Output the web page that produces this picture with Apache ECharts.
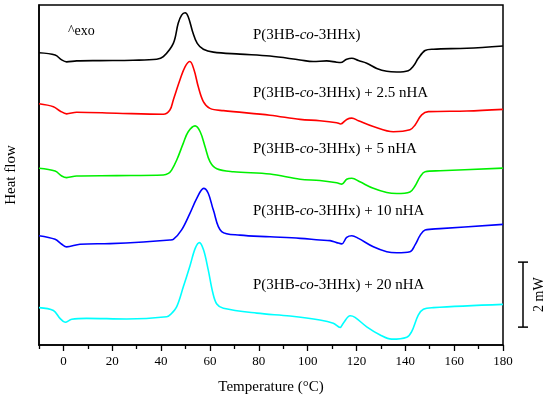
<!DOCTYPE html>
<html>
<head>
<meta charset="utf-8">
<script src="https://cdn.jsdelivr.net/npm/echarts@6/dist/echarts.min.js"></script>
<style>
html, body { margin: 0; padding: 0; background: #fff; }
#chart { width: 550px; height: 401px; }
</style>
</head>
<body>
<div id="chart"></div>
<script>
var dom = document.getElementById("chart");
var myChart = echarts.init(dom);

// tick positions (°C)
var xTicks = [0, 20, 40, 60, 80, 100, 120, 140, 160, 180];
var xMinorTicks = [-10, 10, 30, 50, 70, 90, 110, 130, 150, 170];

// curves: temperature (°C) and heat flow (mW, offset stacked)
var blackT = [-10, -3.4, -0.7, 1.3, 5.4, 15, 28.5, 38.2, 40.9, 45, 47, 48.4, 49.8, 51.1, 52.9, 54.8, 57.3, 61.4, 72.3, 84.6, 96.9, 102.3, 107.8, 111.9, 113.5, 116, 118.1, 120.8, 124.2, 128.3, 132.4, 136.5, 141.2, 143.3, 145.3, 148.1, 151.5, 165.2, 180];
var blackY = [8.99, 8.92, 8.77, 8.71, 8.74, 8.75, 8.76, 8.79, 8.87, 9.28, 9.90, 10.15, 10.22, 10.10, 9.64, 9.28, 9.10, 9.01, 8.95, 8.89, 8.77, 8.72, 8.74, 8.70, 8.69, 8.79, 8.82, 8.75, 8.67, 8.51, 8.42, 8.40, 8.44, 8.58, 8.82, 9.06, 9.10, 9.13, 9.20];

var redT = [-10, -4.1, -1.4, 1.3, 5.4, 21.8, 40.9, 43.6, 45, 47.7, 49.8, 51.8, 53.5, 55.2, 57.3, 60, 65.5, 84.6, 96.9, 105, 111.9, 113.5, 116, 118.1, 120.8, 126.9, 135.1, 141.9, 144, 146.7, 149.4, 165.2, 180];
var redY = [7.42, 7.33, 7.20, 7.11, 7.16, 7.13, 7.10, 7.23, 7.54, 8.15, 8.56, 8.72, 8.46, 7.95, 7.49, 7.28, 7.21, 7.07, 6.94, 6.90, 6.84, 6.80, 6.94, 6.98, 6.90, 6.72, 6.56, 6.62, 6.77, 7.08, 7.18, 7.20, 7.25];

var greenT = [-10, -3.4, -0.7, 1.3, 5.4, 21.8, 40.9, 43, 44.3, 46.4, 49.1, 51.1, 53.9, 56, 58, 60, 62.8, 69.6, 84.6, 96.9, 105, 111.9, 114, 116, 118.1, 121.4, 126.9, 132.4, 136.5, 141.9, 144, 146.1, 148.1, 154.2, 180];
var greenY = [5.44, 5.35, 5.20, 5.15, 5.20, 5.21, 5.23, 5.28, 5.38, 5.69, 6.21, 6.56, 6.74, 6.56, 6.10, 5.64, 5.42, 5.33, 5.26, 5.10, 5.06, 4.99, 4.95, 5.10, 5.13, 5.02, 4.82, 4.69, 4.66, 4.71, 4.89, 5.18, 5.33, 5.36, 5.44];

var blueT = [-10, -3.4, -0.7, 1.3, 6.8, 19.1, 32.7, 43.6, 45, 48.4, 51.8, 54.6, 57.4, 59.3, 61.4, 64.8, 72.3, 84.6, 96.9, 105, 109.2, 111.9, 114, 116, 118.1, 120.8, 126.9, 132.4, 136.5, 141.9, 144, 146.1, 148.1, 154.2, 180];
var blueY = [3.36, 3.25, 3.10, 3.02, 3.10, 3.12, 3.17, 3.23, 3.25, 3.54, 4.05, 4.51, 4.82, 4.67, 4.15, 3.49, 3.38, 3.33, 3.28, 3.23, 3.21, 3.15, 3.11, 3.31, 3.36, 3.28, 3.02, 2.87, 2.84, 2.87, 3.08, 3.38, 3.54, 3.58, 3.71];

var cyanT = [-10, -4.1, -1.4, 0.7, 3.4, 9.5, 25.9, 42.3, 44, 46.4, 49.1, 51.8, 54, 55.7, 57.4, 59.3, 61.1, 62.8, 65.5, 79.2, 92.8, 105, 110.5, 113.3, 114.6, 117.4, 119.4, 124.2, 129.7, 134.4, 140.6, 142.6, 145.3, 147.4, 151.5, 180];
var cyanY = [1.15, 1.06, 0.82, 0.70, 0.79, 0.82, 0.80, 0.87, 0.95, 1.18, 1.79, 2.43, 2.98, 3.15, 2.92, 2.31, 1.63, 1.26, 1.13, 0.98, 0.89, 0.77, 0.67, 0.54, 0.67, 0.90, 0.85, 0.56, 0.31, 0.18, 0.24, 0.41, 0.92, 1.10, 1.15, 1.25];

// 2 mW scale bar (heat flow span)
var scaleBar = [0.55, 2.55];

var curveNames = ['P(3HB-co-3HHx)', 'P(3HB-co-3HHx) + 2.5 nHA', 'P(3HB-co-3HHx) + 5 nHA', 'P(3HB-co-3HHx) + 10 nHA', 'P(3HB-co-3HHx) + 20 nHA'];
var curveColors = ['#000000', '#ff0000', '#00f000', '#0000ff', '#00ffff'];
var curveT = [blackT, redT, greenT, blueT, cyanT];
var curveY = [blackY, redY, greenY, blueY, cyanY];

var font = '"Liberation Serif", "DejaVu Serif", serif';

function zip(t, y) {
    return t.map(function (v, i) { return [v, y[i]]; });
}

var series = curveNames.map(function (name, i) {
    return {
        name: name,
        type: 'line',
        smooth: 0.35,
        symbol: 'none',
        silent: true,
        lineStyle: {color: curveColors[i], width: 1.6},
        data: zip(curveT[i], curveY[i])
    };
});

var labelTop = [37, 95, 151, 213, 287];
var labelTexts = [
    'P(3HB-{i|co}-3HHx)',
    'P(3HB-{i|co}-3HHx) + 2.5 nHA',
    'P(3HB-{i|co}-3HHx) + 5 nHA',
    'P(3HB-{i|co}-3HHx) + 10 nHA',
    'P(3HB-{i|co}-3HHx) + 20 nHA'
];

var graphics = labelTexts.map(function (txt, i) {
    return {
        type: 'text',
        left: 253,
        top: labelTop[i] - 9,
        style: {
            text: txt,
            font: '15px ' + font,
            fill: '#000',
            rich: {i: {fontStyle: 'italic', fontSize: 15, fontFamily: font}}
        }
    };
});
graphics.push({
    type: 'text', left: 68, top: 24,
    style: {text: '^exo', font: '14px ' + font, fill: '#000'}
});

option = {
    animation: false,
    backgroundColor: '#fff',
    grid: {
        left: 39, right: 47, top: 5, bottom: 56,
        outerBoundsMode: 'none',
        show: true, borderColor: '#000', borderWidth: 1.5
    },
    xAxis: [
        {
            type: 'value',
            min: -10, max: 180,
            name: 'Temperature (°C)',
            nameLocation: 'middle',
            nameGap: 35,
            nameTextStyle: {fontFamily: font, fontSize: 15, color: '#000'},
            axisLine: {onZero: false, lineStyle: {color: '#000', width: 1.5}},
            axisTick: {show: true, length: 6, customValues: xTicks, lineStyle: {color: '#000', width: 1.3}},
            axisLabel: {customValues: xTicks, color: '#000', fontFamily: font, fontSize: 13, margin: 10},
            splitLine: {show: false}
        },
        {
            type: 'value',
            min: -10, max: 180,
            position: 'bottom',
            axisLine: {show: false, onZero: false},
            axisTick: {show: true, length: 4, customValues: xMinorTicks, lineStyle: {color: '#000', width: 1.3}},
            axisLabel: {show: false},
            splitLine: {show: false}
        }
    ],
    yAxis: {
        type: 'value',
        min: 0, max: 10.46,
        name: 'Heat flow',
        nameLocation: 'middle',
        nameGap: 20,
        nameTextStyle: {fontFamily: font, fontSize: 15, color: '#000'},
        axisLine: {show: true, onZero: false, lineStyle: {color: '#000', width: 1.5}},
        axisTick: {show: false},
        axisLabel: {show: false},
        splitLine: {show: false}
    },
    series: series,
    graphic: graphics
};

if (option && typeof option === "object") {
    myChart.setOption(option, true);
}

// scale bar placed through the axes
var p0 = myChart.convertToPixel({gridIndex: 0}, [180, scaleBar[0]]);
var p1 = myChart.convertToPixel({gridIndex: 0}, [180, scaleBar[1]]);
var bx = p0[0] + 20;
graphics.push(
    {type: 'line', shape: {x1: bx, y1: p0[1], x2: bx, y2: p1[1]}, style: {stroke: '#000', lineWidth: 1.5}},
    {type: 'line', shape: {x1: bx - 5, y1: p0[1], x2: bx + 5, y2: p0[1]}, style: {stroke: '#000', lineWidth: 1.5}},
    {type: 'line', shape: {x1: bx - 5, y1: p1[1], x2: bx + 5, y2: p1[1]}, style: {stroke: '#000', lineWidth: 1.5}},
    {
        type: 'text', x: bx + 16, y: (p0[1] + p1[1]) / 2, rotation: Math.PI / 2,
        style: {text: '2 mW', font: '14px ' + font, fill: '#000', align: 'center', verticalAlign: 'middle'}
    }
);
myChart.setOption({graphic: graphics});
</script>
</body>
</html>
